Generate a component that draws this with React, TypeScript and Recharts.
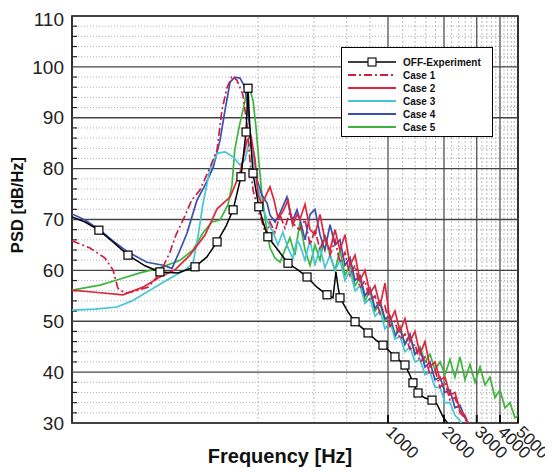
import { LineChart, Line, XAxis, YAxis, ReferenceLine, ReferenceArea, Legend } from 'recharts'

const W = 545
const H = 464
const FONT = '"Liberation Sans", Arial, sans-serif'

// axis ticks and grid positions
const psdTicks = [30, 40, 50, 60, 70, 80, 90, 100, 110]
const psdMinor = [32, 34, 36, 38, 42, 44, 46, 48, 52, 54, 56, 58, 62, 64, 66, 68, 72, 74, 76, 78, 82, 84, 86, 88, 92, 94, 96, 98, 102, 104, 106, 108]
const freqTicks = [1000, 2000, 3000, 4000, 5000]
const freqMajor = [1000, 2000, 3000, 4000]
const freqMinor = [200, 400, 600, 800, 1200, 1400, 1600, 1800, 2200, 2400, 2600, 2800, 3200, 3400, 3600, 3800, 4200, 4400, 4600, 4800]

// measured spectrum: [Hz, dB/Hz, square marker]
const experiment: [number, number, number][] = [
  [20, 70.5, 0], [23.5, 69.5, 0], [27.9, 67.9, 1], [33.2, 65.6, 0], [40, 63.0, 1], [49.4, 60.9, 0],
  [59.4, 59.7, 1], [74.3, 59.5, 0], [91.7, 60.7, 1], [106, 62.6, 0], [120.5, 65.6, 1], [134.6, 68.7, 0],
  [147, 71.9, 1], [162, 78.4, 1], [172.5, 87.2, 1], [176.8, 95.8, 1], [181, 87.6, 0], [188, 79.1, 1],
  [202, 72.5, 1], [213, 69.5, 0], [226, 66.6, 1], [256, 64, 0], [290, 61.4, 1], [328, 60.1, 0],
  [367, 58.7, 1], [415, 56.7, 0], [470, 55.2, 1], [506, 54.6, 0], [525, 59.7, 0], [539, 56.7, 0],
  [552, 54.6, 1], [610, 51.8, 0], [665, 49.9, 1], [725, 48.7, 0], [781, 47.7, 1], [862, 46.3, 0],
  [940, 45.3, 1], [1025, 44, 0], [1090, 43.0, 1], [1234, 41.4, 1], [1313, 39.4, 0], [1362, 37.9, 1],
  [1450, 35.9, 1], [1581, 34.9, 0], [1724, 34.5, 1], [1834, 33.7, 0], [1976, 31.2, 0], [2090, 30, 0]
]

// low-frequency part of each simulation: [Hz, dB/Hz]
const case1Low = [
  [20, 65.8], [25, 64.4], [30.1, 62.4], [33.2, 60.1], [35.3, 56.5], [38.6, 55.5], [43.6, 55.9],
  [51.3, 56.7], [56.6, 58.5], [61.7, 60.7], [67.3, 63.6], [72.5, 67], [79.1, 69.9], [88, 73.8],
  [97.5, 75.8], [110, 80.1], [120.5, 83.7], [128, 91.5], [136, 95.8], [145, 98.2], [154, 97.4],
  [166, 94.5], [174.6, 88.6], [181, 81.7], [188, 75.8], [200, 71.9], [213, 68.9], [221, 66.8],
  [232, 69.5], [247, 67.5], [263, 70.9], [279, 68.3], [297, 71.5], [316, 68.7]
]
const case2Low = [
  [20, 56.1], [26.6, 55.7], [37.6, 55.2], [48.2, 56.7], [59.4, 58.7], [71.6, 60.1], [86.1, 63],
  [104, 67], [120.5, 72.1], [141.5, 74.4], [160, 79.1], [174.6, 85.6], [183.4, 86.4], [193, 81.7],
  [200, 74.8], [210, 72.9], [221, 74.8], [232, 76.4], [244, 73.8], [256, 70.3], [272, 71.5],
  [290, 73.8], [308, 68.9], [324, 71]
]
const case3Low = [
  [20, 52.2], [26.6, 52.4], [34.9, 52.8], [42, 54], [52.5, 56.1], [64.9, 58.1], [81.1, 60.1],
  [89.5, 61.4], [95.5, 67], [101, 72.9], [110, 79.7], [120.5, 83], [133, 83.3], [147, 82.3],
  [160, 80.7], [170, 81.7], [179, 85], [185.8, 83.7], [195, 77.8], [210, 72.9], [226, 69.5],
  [241, 67.5], [256, 65], [272, 67.5], [290, 64.4], [308, 62.4], [324, 66]
]
const case4Low = [
  [20, 71.1], [23.5, 69.9], [28.3, 67.9], [33.2, 65.8], [40, 63.6], [50.6, 61.6], [61.7, 61],
  [69, 60.4], [76.2, 64], [83, 67.3], [94, 73.8], [104, 76.8], [115, 80.3], [125, 85.6], [133, 91.5],
  [141.5, 97], [150, 98], [160, 97.8], [168, 96.4], [174.6, 93.5], [181, 87.6], [188, 82.7],
  [197.6, 77.8], [210, 74.8], [224, 73.2], [232, 70.9], [247, 69.5], [263, 71.3], [286, 74.4],
  [305, 69.5], [324, 71.9]
]
const case5Low = [
  [20, 56.1], [28.3, 57.1], [34.9, 58.1], [46.4, 59.5], [59.4, 60.5], [76.2, 62], [89.5, 64],
  [101, 67.3], [113, 69.5], [125, 69.9], [138, 72.9], [145, 76.8], [150, 83.7], [158, 88], [166, 91.5],
  [174.6, 95.1], [181, 95.5], [188, 93.5], [195, 88.2], [202, 81.7], [210, 74.8], [221, 68.9],
  [232, 64.4], [247, 62.4], [263, 61.6], [279, 64], [297, 66.4], [316, 63]
]

// broadband part, read at common frequencies
const bandFreq = [
  336, 358, 381, 405, 431, 458, 488, 519, 552, 587, 625, 665, 707, 752, 800, 851, 906, 963,
  1025, 1090, 1160, 1234, 1313, 1396, 1486, 1581, 1682, 1789, 1905, 2024, 2154, 2291, 2438, 2594, 2760, 2936
]
const case1Band = [68, 70, 65, 68, 64, 67, 63, 66, 61.5, 63.5, 59, 61, 56.5, 58, 54, 55, 51.5, 53, 49, 50, 46.5, 47.5, 44.5, 45.5, 42, 43, 39.5, 40.5, 37, 38, 34.5, 35, 32, 31, 28.5, 27]
const case2Band = [70, 73, 68, 67, 71, 66, 64, 68, 64, 67, 61, 63, 58, 60, 55.5, 57, 53, 57.5, 50, 52, 48, 50.5, 46, 48, 43.5, 46, 41, 42, 38.5, 39, 35.5, 36, 32.5, 31.5, 29, 27]
const case3Band = [65, 62, 66, 61, 64.5, 60.5, 63, 60, 62, 58, 60, 56, 57, 53.5, 54.5, 51, 52, 48.5, 50, 46.5, 47, 44, 45, 42, 42.5, 39.5, 40, 37, 37, 34, 34, 31.5, 30.5, 28.5, 27, 26]
const case4Band = [70, 66, 71, 72, 67, 64, 69, 65, 66, 61, 62.5, 58, 59, 55, 56.5, 52.5, 54, 50.5, 51, 47, 48.5, 45.5, 47.5, 43.5, 44.5, 41, 42, 38.5, 39, 36, 36.5, 33, 33.5, 31, 29.5, 27]
const case5Band = [69.5, 64, 61, 65, 62, 67, 63, 60, 64, 59, 61, 57, 58.5, 54, 56, 52, 53.5, 50, 51, 47.5, 49, 45.5, 47, 43.5, 45, 42, 43.5, 40.5, 42, 39.5, 42.5, 39, 43, 38.5, 41.5, 38]
const case5Tail = [[3125, 41], [3322, 37.5], [3535, 39], [3760, 35], [4000, 36.5], [4256, 33], [4528, 34], [4816, 31], [5000, 31.5]]

const build = (low: number[][], band: number[], tail: number[][] = []) => [
  ...low.map(([f, p]) => ({ f, p })),
  ...bandFreq.map((f, i) => ({ f, p: band[i] })),
  ...tail.map(([f, p]) => ({ f, p }))
]

const expData = experiment.map(([f, p, m]) => ({ f, p, m }))
const series = [
  { name: 'Case 5', data: build(case5Low, case5Band, case5Tail), color: '#3db53d', dash: undefined },
  { name: 'Case 4', data: build(case4Low, case4Band), color: '#3a4fb3', dash: undefined },
  { name: 'Case 3', data: build(case3Low, case3Band), color: '#45c6d6', dash: undefined },
  { name: 'Case 2', data: build(case2Low, case2Band), color: '#e0263a', dash: undefined },
  { name: 'Case 1', data: build(case1Low, case1Band), color: '#cf1f45', dash: '8 3 2 3' }
]

const legendRows = [
  { name: 'OFF-Experiment', color: '#000', dash: undefined, marker: true },
  { name: 'Case 1', color: '#cf1f45', dash: '8 3 2 3', marker: false },
  { name: 'Case 2', color: '#e0263a', dash: undefined, marker: false },
  { name: 'Case 3', color: '#45c6d6', dash: undefined, marker: false },
  { name: 'Case 4', color: '#3a4fb3', dash: undefined, marker: false },
  { name: 'Case 5', color: '#3db53d', dash: undefined, marker: false }
]

function LegendBox() {
  return (
    <svg width={152} height={90} style={{ display: 'block' }}>
      <rect x={0.5} y={0.5} width={151} height={89} fill="#fff" stroke="#000" strokeWidth={1} />
      {legendRows.map((r, i) => {
        const y = 15 + i * 13
        return (
          <g key={r.name}>
            <line x1={7} x2={55} y1={y} y2={y} stroke={r.color} strokeWidth={r.marker ? 1.3 : 2} strokeDasharray={r.dash} />
            {r.marker && <rect x={27} y={y - 4} width={8} height={8} fill="#fff" stroke="#000" strokeWidth={1.1} />}
            <text x={62} y={y + 3.5} fontSize={10} fontWeight="bold" fontFamily={FONT} fill="#111">
              {r.name}
            </text>
          </g>
        )
      })}
    </svg>
  )
}

function FreqTick({ x, y, payload }: any) {
  const ax = x - 3
  const ay = y + 8
  return (
    <text x={ax} y={ay} transform={`rotate(45 ${ax} ${ay})`} fontSize={17} fontFamily={FONT} fill="#222" textAnchor="start">
      {payload.value}
    </text>
  )
}

function XTitle() {
  return (
    <text x={272} y={455} textAnchor="middle" fontSize={20} fontWeight="bold" fontFamily={FONT} fill="#111">
      Frequency [Hz]
    </text>
  )
}

function YTitle() {
  return (
    <text x={15} y={197} transform="rotate(-90 15 197)" textAnchor="middle" fontSize={16.5} fontWeight="bold" fontFamily={FONT} fill="#111">
      PSD [dB/Hz]
    </text>
  )
}

function ExpDot(props: any) {
  const { cx, cy, payload, index } = props
  if (!payload.m) return <g key={`d${index}`} />
  return <rect key={`d${index}`} x={cx - 4} y={cy - 4} width={8} height={8} fill="#fff" stroke="#000" strokeWidth={1.2} />
}

export default function App() {
  return (
    <div style={{ width: W, height: H, background: '#fff' }}>
      <LineChart width={W} height={H} margin={{ top: 8, right: 35, bottom: 0, left: 0 }}>
        <XAxis
          dataKey="f"
          type="number"
          scale="log"
          domain={[20, 5000]}
          allowDataOverflow
          ticks={freqTicks}
          tick={<FreqTick />}
          tickLine={false}
          tickSize={0}
          axisLine={false}
          height={49}
          interval={0}
          label={<XTitle />}
        />
        <YAxis
          type="number"
          domain={[30, 110]}
          allowDataOverflow
          ticks={psdTicks}
          tickLine={false}
          tickSize={0}
          tickMargin={8}
          axisLine={false}
          width={64}
          tick={{ fontSize: 19, fill: '#222', fontFamily: FONT }}
          label={<YTitle />}
        />
        {psdMinor.map((v) => (
          <ReferenceLine key={`ym${v}`} y={v} stroke="#9a9a9a" strokeWidth={0.8} strokeDasharray="1 2" />
        ))}
        {freqMinor.map((v) => (
          <ReferenceLine key={`xm${v}`} x={v} stroke="#aaa" strokeWidth={0.8} strokeDasharray="2 2" />
        ))}
        {psdTicks.map((v) => (
          <ReferenceLine key={`yM${v}`} y={v} stroke="#444" strokeWidth={1.3} />
        ))}
        {freqMajor.map((v) => (
          <ReferenceLine key={`xM${v}`} x={v} stroke="#444" strokeWidth={1.2} />
        ))}
        {psdMinor.map((v) => (
          <ReferenceLine key={`yt${v}`} segment={[{ x: 20, y: v }, { x: 21.3, y: v }]} stroke="#222" strokeWidth={1.2} />
        ))}
        {freqTicks.map((v) => (
          <ReferenceLine key={`xt${v}`} segment={[{ x: v, y: 30 }, { x: v, y: 31.6 }]} stroke="#111" strokeWidth={2} />
        ))}
        {series.map((s) => (
          <Line
            key={s.name}
            data={s.data}
            dataKey="p"
            name={s.name}
            type="linear"
            stroke={s.color}
            strokeWidth={1.7}
            strokeDasharray={s.dash}
            dot={false}
            isAnimationActive={false}
          />
        ))}
        <Line
          data={expData}
          dataKey="p"
          name="OFF-Experiment"
          type="linear"
          stroke="#000"
          strokeWidth={1.5}
          dot={<ExpDot />}
          isAnimationActive={false}
        />
        <ReferenceArea x1={20} x2={5000} y1={30} y2={110} fill="none" stroke="#000" strokeWidth={1.6} />
        <Legend
          layout="horizontal"
          verticalAlign="middle"
          align="center"
          content={<LegendBox />}
          wrapperStyle={{ left: 333, top: 39, width: 152, height: 90 }}
        />
      </LineChart>
    </div>
  )
}
